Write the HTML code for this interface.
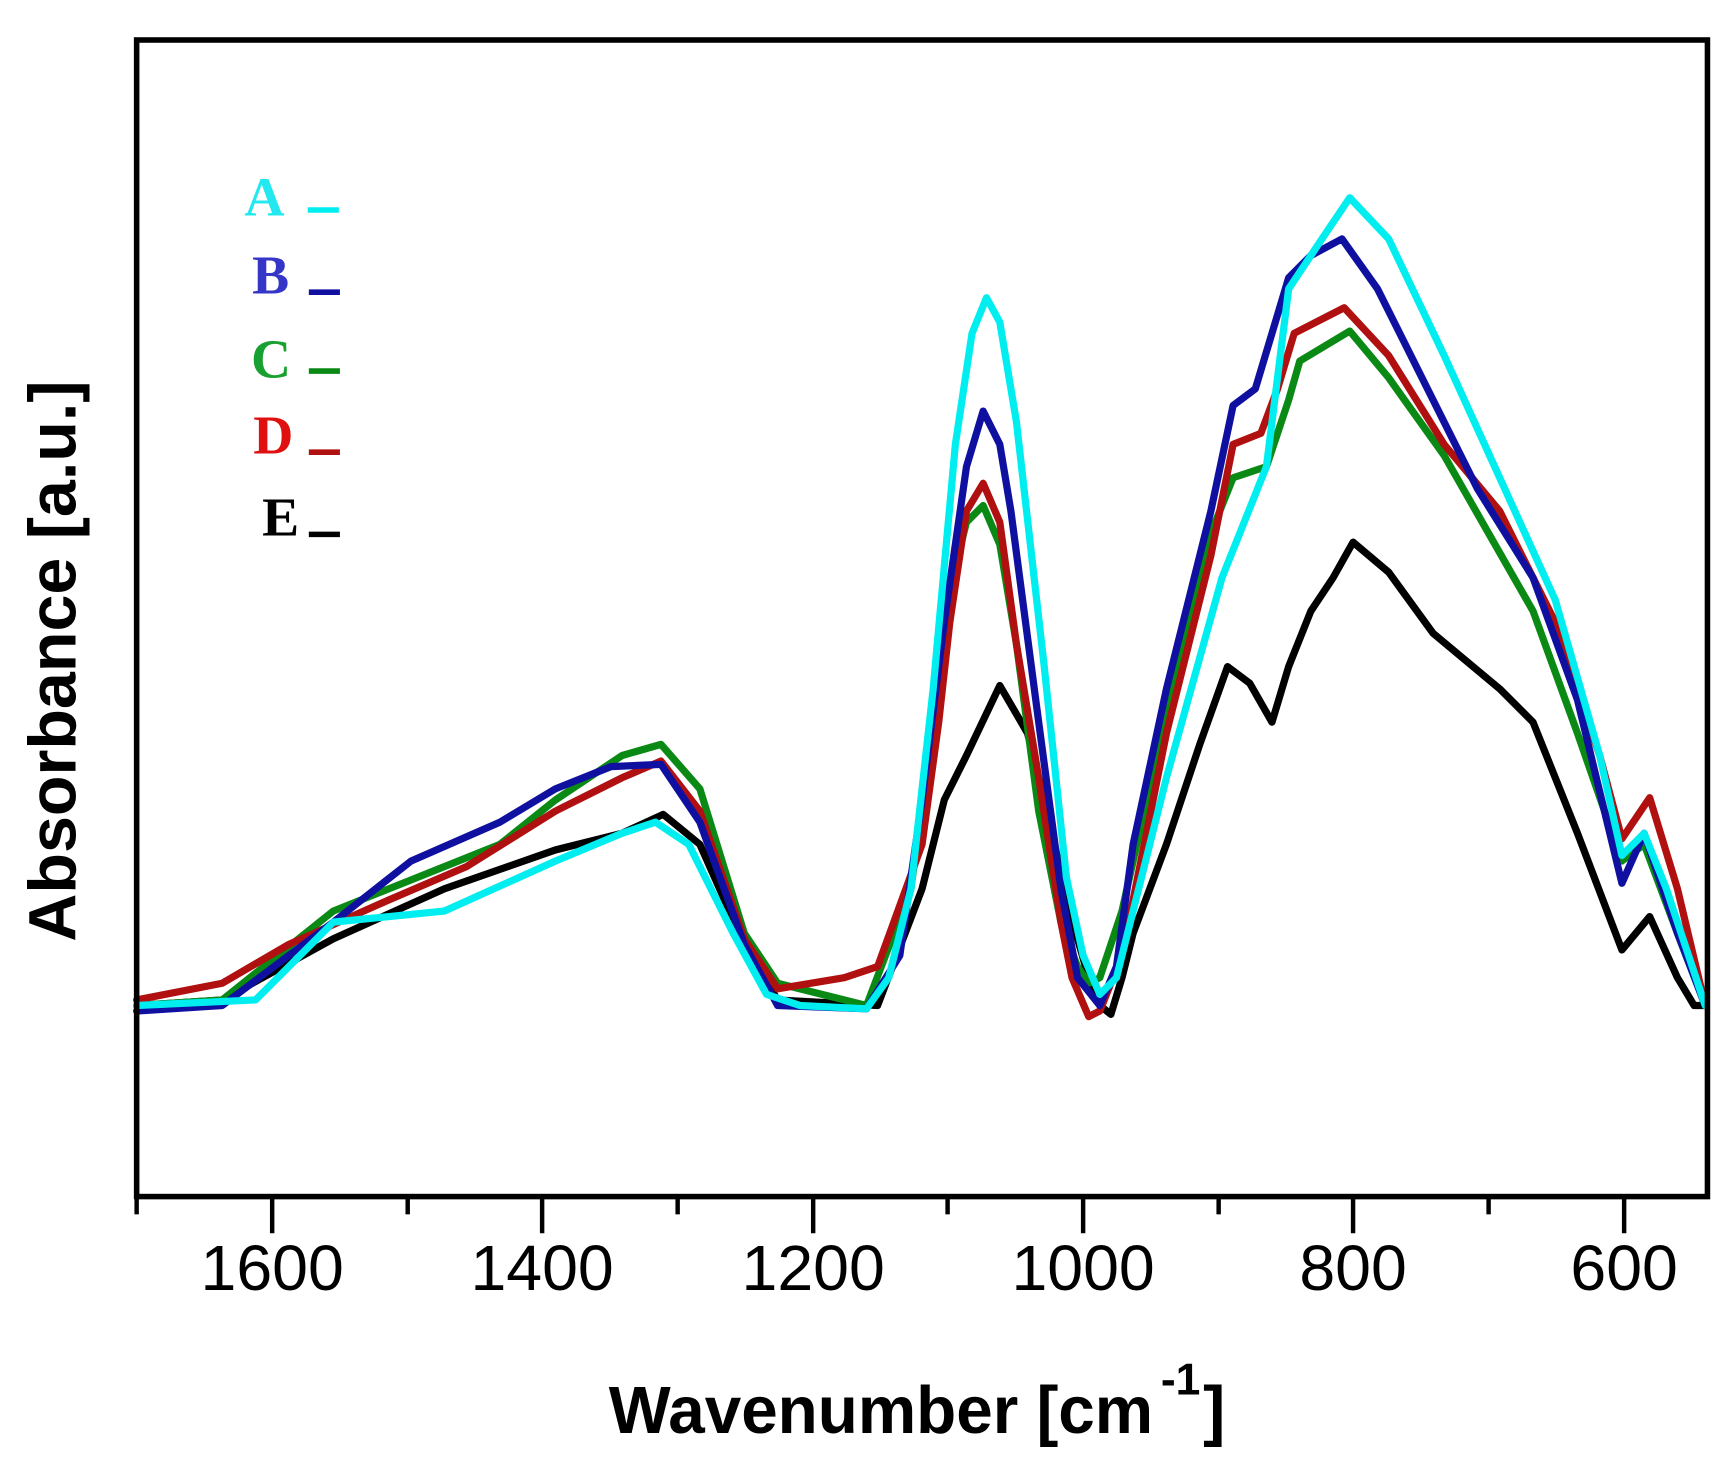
<!DOCTYPE html>
<html><head><meta charset="utf-8"><style>html,body{margin:0;padding:0;background:#fff}svg{display:block}</style></head>
<body>
<svg width="1733" height="1461" viewBox="0 0 1560 1315" preserveAspectRatio="none" xmlns="http://www.w3.org/2000/svg">
<rect x="0" y="0" width="1560" height="1315" fill="#fff"/>
<g fill="none" stroke-linejoin="round" stroke-linecap="round" stroke-width="6.5">
<polyline stroke="#000" points="123,905 200,900 300,845 400,800 500,765 560,750 597,733 630,760 670,850 700,900 790,905 830,800 850,720 870,680 900,617 925,660 945,740 960,810 980,880 990,905 1000,913 1010,880 1020,840 1050,760 1080,670 1105,600 1125,615 1145,650 1160,600 1180,550 1200,520 1218,488 1250,515 1290,570 1350,620 1380,650 1420,750 1460,855 1485,825 1510,880 1525,905 1535,905"/>
<polyline stroke="#0a8a14" points="123,905 200,900 300,820 350,800 450,760 500,720 560,680 595,670 630,710 670,840 700,885 780,905 820,800 840,650 855,530 870,470 885,455 900,490 915,580 935,730 955,830 970,870 980,885 990,880 1010,820 1050,640 1090,480 1110,430 1140,420 1160,360 1170,325 1215,298 1250,340 1300,410 1340,480 1380,550 1420,660 1460,775 1480,760 1510,840 1535,905"/>
<polyline stroke="#b01010" points="123,900 200,885 260,850 350,810 420,780 500,730 560,700 595,685 630,730 670,845 700,890 760,880 790,870 830,760 845,650 855,560 870,460 885,435 900,470 915,580 935,700 955,830 965,880 980,915 990,910 1010,860 1050,660 1090,500 1110,400 1135,390 1150,350 1165,300 1210,277 1250,320 1300,400 1350,460 1400,560 1440,680 1460,755 1485,718 1510,800 1535,905"/>
<polyline stroke="#1010a0" points="123,910 200,905 300,830 370,775 450,740 500,710 550,690 595,688 630,740 670,850 700,905 780,908 810,860 830,720 850,560 870,420 885,370 900,400 910,460 935,650 955,800 970,880 990,905 1005,870 1020,760 1050,620 1090,460 1110,365 1130,350 1160,250 1180,230 1208,215 1240,260 1280,340 1330,440 1380,520 1420,630 1460,795 1480,750 1510,840 1535,905"/>
<polyline stroke="#00eef0" points="123,905 230,900 300,830 400,820 500,775 560,750 590,740 620,760 660,840 690,895 720,905 780,908 800,880 820,800 840,620 860,400 875,300 888,268 900,290 915,380 940,600 960,790 975,860 990,895 1005,880 1020,820 1050,700 1100,520 1140,420 1160,260 1190,215 1215,178 1250,215 1300,320 1350,430 1400,540 1440,680 1460,770 1480,750 1500,800 1535,905"/>
</g>
<g stroke="#000" fill="none">
<rect x="123" y="36" width="1414" height="1041" stroke-width="5"/>
<g stroke-width="4">
<line x1="245" y1="1077" x2="245" y2="1110"/><line x1="488" y1="1077" x2="488" y2="1110"/><line x1="732" y1="1077" x2="732" y2="1110"/><line x1="975" y1="1077" x2="975" y2="1110"/><line x1="1218" y1="1077" x2="1218" y2="1110"/><line x1="1462" y1="1077" x2="1462" y2="1110"/>
<line x1="123" y1="1077" x2="123" y2="1093"/><line x1="367" y1="1077" x2="367" y2="1093"/><line x1="610" y1="1077" x2="610" y2="1093"/><line x1="853" y1="1077" x2="853" y2="1093"/><line x1="1097" y1="1077" x2="1097" y2="1093"/><line x1="1340" y1="1077" x2="1340" y2="1093"/>
</g></g>
<g font-family="Liberation Sans, sans-serif" font-size="58" text-anchor="middle" fill="#000">
<text x="245" y="1161">1600</text><text x="488" y="1161">1400</text><text x="732" y="1161">1200</text><text x="975" y="1161">1000</text><text x="1218" y="1161">800</text><text x="1462" y="1161">600</text>
</g>
<g font-family="Liberation Sans, sans-serif" font-weight="bold" fill="#000">
<text x="548" y="1290" font-size="60" textLength="490" lengthAdjust="spacingAndGlyphs">Wavenumber [cm</text>
<text x="1045" y="1255" font-size="40">-1</text>
<text x="1083" y="1290" font-size="60">]</text>
<text transform="translate(68,595) rotate(-90)" text-anchor="middle" font-size="60" textLength="505" lengthAdjust="spacingAndGlyphs">Absorbance [a.u.]</text>
</g>
<g font-family="Liberation Serif, serif" font-weight="bold" font-size="50">
<text x="220" y="194" fill="#22e8f0">A</text>
<text x="227" y="264" fill="#3535c8">B</text>
<text x="226" y="340" fill="#18a030">C</text>
<text x="228" y="408" fill="#e01010">D</text>
<text x="236" y="482" fill="#000">E</text>
</g>
<g stroke-width="5">
<line x1="277" y1="189" x2="305" y2="189" stroke="#00eef0"/>
<line x1="278" y1="263" x2="306" y2="263" stroke="#1010a0"/>
<line x1="278" y1="334" x2="306" y2="334" stroke="#0a8a14"/>
<line x1="278" y1="407" x2="306" y2="407" stroke="#b01010"/>
<line x1="278" y1="481" x2="306" y2="481" stroke="#000"/>
</g>
</svg>
</body></html>
